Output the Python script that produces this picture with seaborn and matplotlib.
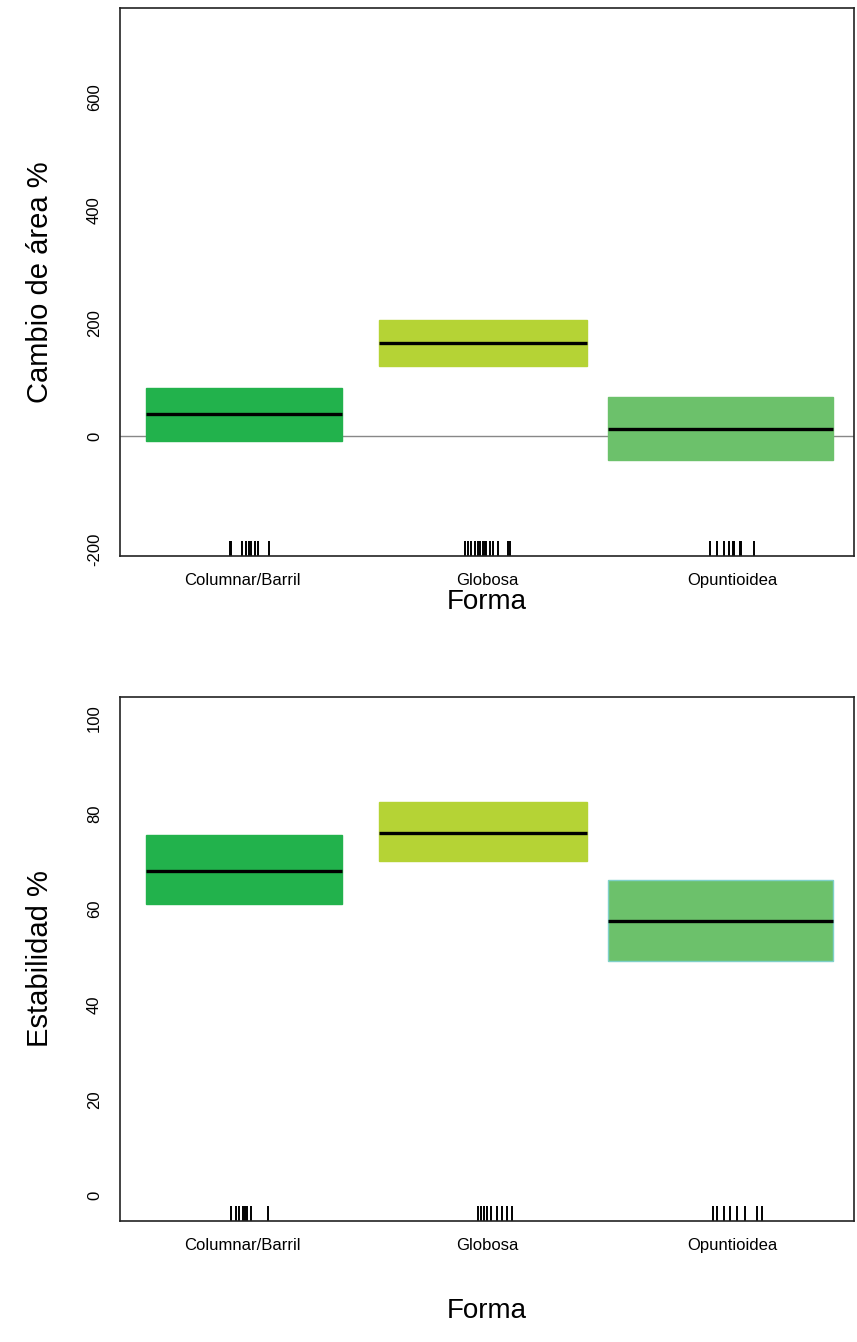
import matplotlib
matplotlib.use("Agg")
import matplotlib.pyplot as plt
import seaborn as sns
import numpy as np

# ---------------- data ----------------
categories = ["Columnar/Barril", "Globosa", "Opuntioidea"]

# Panel 1: Cambio de área %
area_median = [39, 165, 12]
area_lower = [-9, 124, -43]
area_upper = [85, 206, 69]
area_yticks = [-200, 0, 200, 400, 600]
area_rug = [
    [-0.05, -0.045, 0.0, 0.015, 0.025, 0.035, 0.05, 0.065, 0.11],
    [-0.09, -0.077, -0.065, -0.049, -0.037, -0.028, -0.016, -0.008, -0.004,
     0.012, 0.024, 0.045, 0.085, 0.093],
    [-0.09, -0.06, -0.033, -0.012, 0.004, 0.01, 0.032, 0.037, 0.09],
]

# Panel 2: Estabilidad %
stab_median = [68, 76, 57.5]
stab_lower = [61, 70, 49]
stab_upper = [75.5, 82.5, 66]
stab_yticks = [0, 20, 40, 60, 80, 100]
stab_rug = [
    [-0.045, -0.028, -0.012, 0.004, 0.012, 0.02, 0.036, 0.105],
    [-0.036, -0.024, -0.012, 0.0, 0.016, 0.04, 0.061, 0.081, 0.102],
    [-0.077, -0.061, -0.033, -0.008, 0.02, 0.053, 0.102, 0.122],
]

# ---------------- style ----------------
colors = ["#22b24c", "#b5d335", "#6cc16b"]
band_width = [0.80, 0.85, 0.92]
band_shift = [0.008, -0.016, -0.048]

sns.set_style("white")
plt.rcParams["font.family"] = ["Liberation Sans", "DejaVu Sans"]
plt.rcParams["text.color"] = "black"
plt.rcParams["axes.labelcolor"] = "black"
plt.rcParams["xtick.color"] = "black"
plt.rcParams["ytick.color"] = "black"

fig = plt.figure(figsize=(8.57, 13.42), dpi=100)
ax1 = fig.add_axes([0.140, 0.5857, 0.857, 0.4083])
ax2 = fig.add_axes([0.140, 0.0902, 0.857, 0.3904])

x = np.arange(len(categories))


def draw(ax, med, lo, hi, rug, yticks, ylim, ylabel, zero_line, edges, xpad):
    pos = x + np.array(band_shift)
    w = np.array(band_width)
    ax.bar(pos, np.array(hi) - np.array(lo), bottom=lo, width=w,
           color=colors, edgecolor=edges, linewidth=1, zorder=2)
    ax.hlines(med, pos - w / 2, pos + w / 2, color="black", linewidth=2.4, zorder=3)
    if zero_line:
        ax.axhline(0, color="#888888", linewidth=1, zorder=1)
    for i, offs in enumerate(rug):
        sns.rugplot(x=x[i] + np.array(offs), ax=ax, height=0.028,
                    color="black", linewidth=1.4, expand_margins=False)
    ax.set_xlim(-0.5, 2.5)
    ax.set_ylim(*ylim)
    ax.set_xticks(x)
    ax.set_xticklabels(categories, fontsize=12)
    ax.set_yticks(yticks)
    ax.set_yticklabels([str(t) for t in yticks], rotation=90, va="center", fontsize=12)
    ax.tick_params(axis="y", length=7, width=1, color="#333333", pad=6)
    ax.tick_params(axis="x", length=0, pad=12)
    for s in ax.spines.values():
        s.set_color("#222222")
        s.set_linewidth(1.2)
    ax.set_ylabel(ylabel, fontsize=21, labelpad=24)
    ax.set_xlabel("Forma", fontsize=20, labelpad=xpad)


draw(ax1, area_median, area_lower, area_upper, area_rug, area_yticks,
     (-212, 757), "Cambio de área %", True, colors, 1)
draw(ax2, stab_median, stab_lower, stab_upper, stab_rug, stab_yticks,
     (-5.4, 104.4), "Estabilidad %", False,
     ["#22b24c", "#b5d335", "#7fd0c8"], 33)

fig.savefig("out.png", dpi=100, facecolor="white")
